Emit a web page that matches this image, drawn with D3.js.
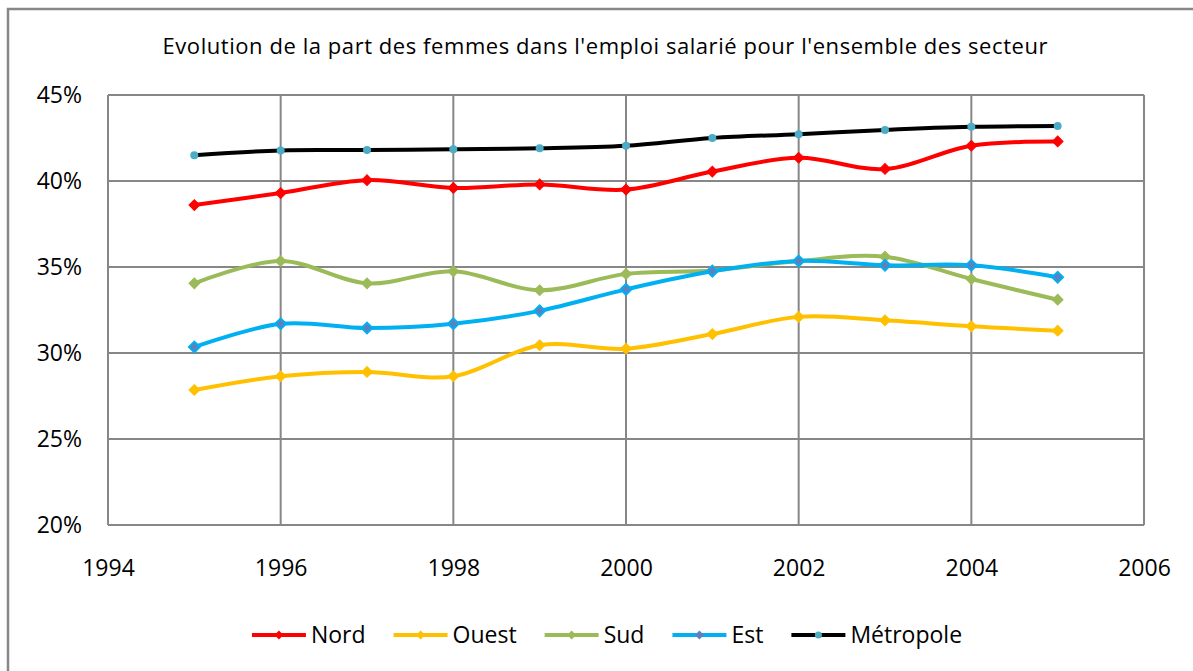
<!DOCTYPE html>
<html>
<head>
<meta charset="utf-8">
<script src="https://cdn.jsdelivr.net/npm/d3@7"></script>
<style>
  body { margin: 0; background: #fff; }
  text { font-family: "Open Sans", sans-serif; fill: #000; }
</style>
</head>
<body>
<div id="chart"></div>
<script>
var years = [1995, 1996, 1997, 1998, 1999, 2000, 2001, 2002, 2003, 2004, 2005];
var nord = [38.6, 39.3, 40.05, 39.6, 39.8, 39.5, 40.55, 41.35, 40.7, 42.05, 42.3];
var ouest = [27.85, 28.65, 28.9, 28.65, 30.45, 30.25, 31.1, 32.1, 31.9, 31.55, 31.3];
var sud = [34.05, 35.35, 34.05, 34.75, 33.65, 34.6, 34.8, 35.35, 35.6, 34.3, 33.1];
var est = [30.35, 31.7, 31.45, 31.7, 32.45, 33.7, 34.75, 35.35, 35.1, 35.1, 34.4];
var metropole = [41.5, 41.78, 41.8, 41.85, 41.9, 42.05, 42.5, 42.72, 42.97, 43.15, 43.2];
var xTicks = [1994, 1996, 1998, 2000, 2002, 2004, 2006];
var yTicks = [20, 25, 30, 35, 40, 45];
var titleText = "Evolution de la part des femmes dans l'emploi salarié pour l'ensemble des secteur";

var series = [
  {name: "Nord", values: nord, color: "#FF0000", marker: "diamond", mfill: "#FF0000"},
  {name: "Ouest", values: ouest, color: "#FFC000", marker: "diamond", mfill: "#FFC000"},
  {name: "Sud", values: sud, color: "#9BBB59", marker: "diamond", mfill: "#9BBB59"},
  {name: "Est", values: est, color: "#00B0F0", marker: "diamond", mfill: "#5F7FC0"},
  {name: "Métropole", values: metropole, color: "#000000", marker: "circle", mfill: "#4BACC6"}
];

var W = 1193, H = 671;
var margin = {top: 95, right: 49, bottom: 146, left: 108},
    width = W - margin.left - margin.right,
    height = H - margin.top - margin.bottom;

var svg = d3.select("#chart")
  .append("svg")
    .attr("width", W)
    .attr("height", H);

// outer frame
svg.append("rect")
  .attr("x", 8).attr("y", 9)
  .attr("width", W + 10).attr("height", H + 10)
  .style("fill", "none")
  .style("stroke", "#878787")
  .style("stroke-width", 2.5);

var title = svg.append("text")
  .attr("x", 605)
  .attr("y", 54)
  .attr("text-anchor", "middle")
  .style("font-size", "22px")
  .text(titleText);
title.attr("textLength", 885).attr("lengthAdjust", "spacing");

var g = svg.append("g")
  .attr("transform", "translate(" + margin.left + "," + margin.top + ")");

var x = d3.scaleLinear().domain([1994, 2006]).range([0, width]);
var y = d3.scaleLinear().domain([20, 45]).range([height, 0]);

// grid
g.selectAll(".hgrid")
  .data(yTicks)
  .enter()
  .append("line")
    .attr("x1", 0).attr("x2", width)
    .attr("y1", function(d) { return y(d) })
    .attr("y2", function(d) { return y(d) })
    .style("stroke", "#878787")
    .style("stroke-width", 2);

g.selectAll(".vgrid")
  .data(xTicks)
  .enter()
  .append("line")
    .attr("x1", function(d) { return x(d) })
    .attr("x2", function(d) { return x(d) })
    .attr("y1", 0).attr("y2", height)
    .style("stroke", "#878787")
    .style("stroke-width", 2);

// axes labels
var yAxis = g.append("g")
  .call(d3.axisLeft(y).tickValues(yTicks).tickSize(0).tickPadding(26)
    .tickFormat(function(d) { return d + "%" }));
yAxis.select(".domain").remove();
yAxis.selectAll("text").style("font-size", "23px").attr("font-family", null);

var xAxis = g.append("g")
  .attr("transform", "translate(0," + height + ")")
  .call(d3.axisBottom(x).tickValues(xTicks).tickSize(0).tickPadding(35)
    .tickFormat(d3.format("d")));
xAxis.select(".domain").remove();
xAxis.selectAll("text").style("font-size", "23px").attr("font-family", null);

var line = d3.line()
  .curve(d3.curveCardinal.tension(0))
  .x(function(d, i) { return x(years[i]) })
  .y(function(d) { return y(d) });

var diamond = d3.symbol().type(d3.symbolSquare).size(58);
var circle = d3.symbol().type(d3.symbolCircle).size(50);

series.forEach(function(s) {
  g.append("path")
    .datum(s.values)
    .attr("d", line)
    .style("fill", "none")
    .style("stroke", s.color)
    .style("stroke-width", 4);
});

series.forEach(function(s) {
  g.selectAll(".m-" + s.name)
    .data(s.values)
    .enter()
    .append("path")
      .attr("d", s.marker === "diamond" ? diamond : circle)
      .attr("transform", function(d, i) {
        return "translate(" + x(years[i]) + "," + y(d) + ")" + (s.marker === "diamond" ? " rotate(45)" : "");
      })
      .style("fill", s.mfill)
      .style("stroke", s.color === "#000000" ? "none" : s.color)
      .style("stroke-width", s.name === "Est" ? 2 : 1);
});

// legend
var legend = svg.append("g");
var lx = 0;
series.forEach(function(s, i) {
  var item = legend.append("g").attr("transform", "translate(" + lx + ",0)");
  item.append("line")
    .attr("x1", 0).attr("x2", 54)
    .attr("y1", 0).attr("y2", 0)
    .style("stroke", s.color)
    .style("stroke-width", 4);
  item.append("path")
    .attr("d", s.marker === "diamond" ? d3.symbol().type(d3.symbolSquare).size(40)() : d3.symbol().type(d3.symbolCircle).size(40)())
    .attr("transform", "translate(27,0)" + (s.marker === "diamond" ? " rotate(45)" : ""))
    .style("fill", s.mfill);
  var t = item.append("text")
    .attr("x", 59)
    .attr("y", 8)
    .style("font-size", "23px")
    .text(s.name);
  lx += 59 + t.node().getComputedTextLength() + 28;
});
lx -= 28;
legend.attr("transform", "translate(" + (607 - lx / 2) + ",635)");
</script>
</body>
</html>
